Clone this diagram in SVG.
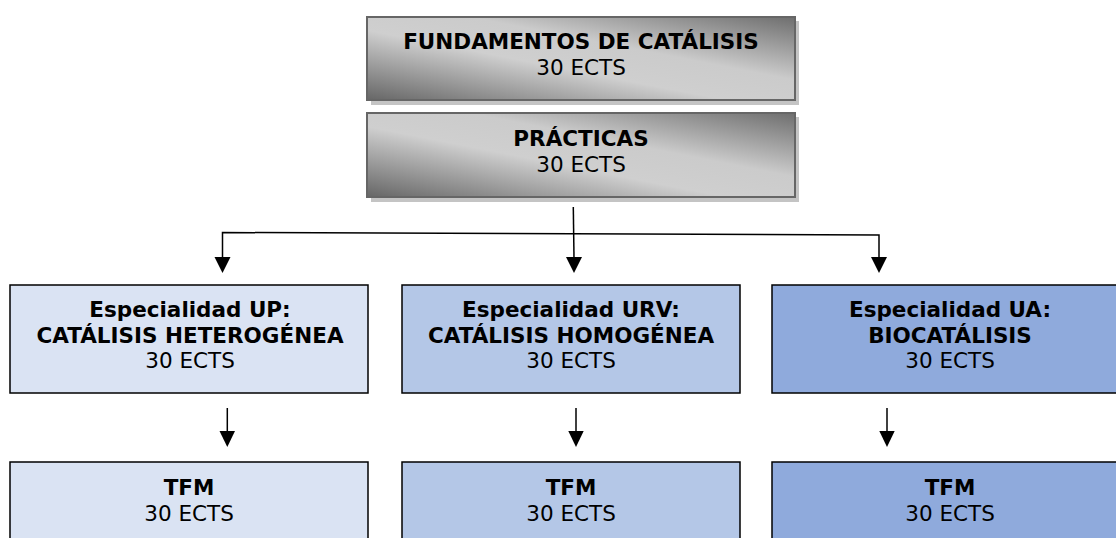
<svg xmlns="http://www.w3.org/2000/svg" width="1116" height="538" viewBox="0 0 1116 538">
<style>
text{font-family:"DejaVu Sans","Verdana",sans-serif;font-size:21.5px;fill:#000;text-anchor:middle}
.b{font-weight:bold}
.shadow{fill:#c4c4c4}
.gray{fill:url(#g);stroke:#666;stroke-width:2}
.s1{fill:#dae3f3;stroke:#000;stroke-width:1.5}
.s2{fill:#b4c7e7;stroke:#000;stroke-width:1.5}
.s3{fill:#8faadc;stroke:#000;stroke-width:1.5}
.ln{fill:none;stroke:#000;stroke-width:1.5}
</style>
<defs>
<linearGradient id="g" x1="0" y1="1" x2="1" y2="0">
<stop offset="0" stop-color="#666"/>
<stop offset="0.42" stop-color="#cfcfcf"/>
<stop offset="0.62" stop-color="#cbcbcb"/>
<stop offset="1" stop-color="#6e6e6e"/>
</linearGradient>
</defs>
<g id="fundamentos">
<rect class="shadow" x="371" y="21" width="428" height="84"/>
<rect class="gray" x="367" y="17" width="428" height="83"/>
<text class="b" x="581" y="49">FUNDAMENTOS DE CATÁLISIS</text>
<text x="581" y="75">30 ECTS</text>
</g>
<g id="practicas">
<rect class="shadow" x="371" y="117" width="428" height="85"/>
<rect class="gray" x="367" y="113" width="428" height="84"/>
<text class="b" x="581" y="146">PRÁCTICAS</text>
<text x="581" y="172">30 ECTS</text>
</g>
<g id="esp-up">
<rect class="s1" x="10" y="285" width="358" height="108"/>
<text class="b" x="190" y="317">Especialidad UP:</text>
<text class="b" x="190" y="343">CATÁLISIS HETEROGÉNEA</text>
<text x="190" y="368">30 ECTS</text>
</g>
<g id="esp-urv">
<rect class="s2" x="402" y="285" width="338" height="108"/>
<text class="b" x="571" y="317">Especialidad URV:</text>
<text class="b" x="571" y="343">CATÁLISIS HOMOGÉNEA</text>
<text x="571" y="368">30 ECTS</text>
</g>
<g id="esp-ua">
<rect class="s3" x="772" y="285" width="356" height="108"/>
<text class="b" x="950" y="317">Especialidad UA:</text>
<text class="b" x="950" y="343">BIOCATÁLISIS</text>
<text x="950" y="368">30 ECTS</text>
</g>
<g id="tfm-up">
<rect class="s1" x="10" y="462" width="358" height="90"/>
<text class="b" x="189" y="495">TFM</text>
<text x="189" y="521">30 ECTS</text>
</g>
<g id="tfm-urv">
<rect class="s2" x="402" y="462" width="338" height="90"/>
<text class="b" x="571" y="495">TFM</text>
<text x="571" y="521">30 ECTS</text>
</g>
<g id="tfm-ua">
<rect class="s3" x="772" y="462" width="356" height="90"/>
<text class="b" x="950" y="495">TFM</text>
<text x="950" y="521">30 ECTS</text>
</g>
<g id="connectors">
<path class="ln" d="M222.5,258 V232.5 L879,235 V258"/>
<path class="ln" d="M573.3,207 L574,258"/>
<polygon points="214.5,257 230.5,257 222.5,273"/>
<polygon points="566,257 582,257 574,273"/>
<polygon points="871,257 887,257 879,273"/>
<path class="ln" d="M227.3,408 V433"/>
<path class="ln" d="M576,408 V433"/>
<path class="ln" d="M887,408 V433"/>
<polygon points="219.5,431 235,431 227.3,447"/>
<polygon points="568.3,431 583.7,431 576,447"/>
<polygon points="879.3,431 894.7,431 887,447"/>
</g>
</svg>
